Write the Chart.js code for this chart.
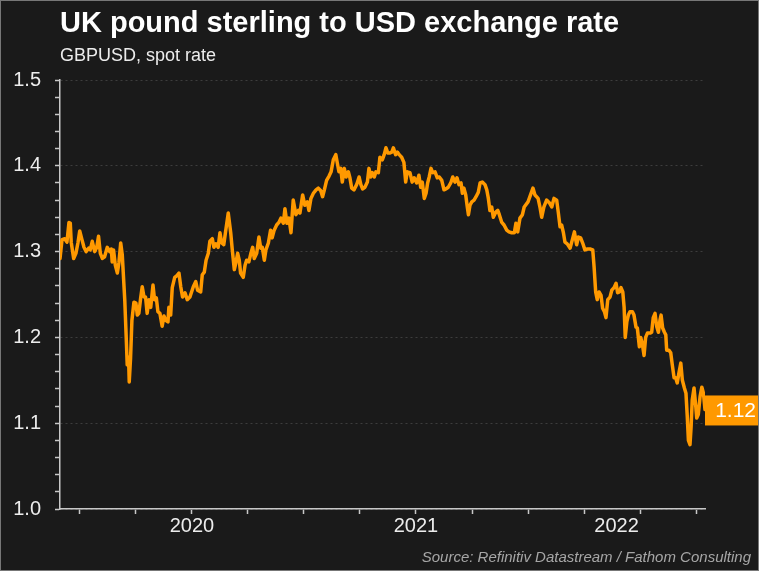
<!DOCTYPE html>
<html>
<head>
<meta charset="utf-8">
<script src="https://cdn.jsdelivr.net/npm/chart.js@4.4.0/dist/chart.umd.min.js"></script>
<style>
  html, body { margin: 0; padding: 0; background: #1a1a1a; }
  canvas { display: block; }
</style>
</head>
<body>
<canvas id="fx" width="759" height="571"></canvas>
<script>
// GBPUSD spot (x = decimal year)
const dates = [
  2019.911, 2019.920, 2019.932, 2019.942, 2019.951, 2019.957, 2019.961, 2019.972, 2019.982, 2019.991,
  2019.999, 2020.009, 2020.018, 2020.028, 2020.039, 2020.046, 2020.055, 2020.066, 2020.075, 2020.083,
  2020.091, 2020.100, 2020.110, 2020.122, 2020.133, 2020.140, 2020.144, 2020.150, 2020.158, 2020.167,
  2020.174, 2020.182, 2020.189, 2020.200, 2020.207, 2020.211, 2020.217, 2020.220, 2020.226, 2020.232,
  2020.241, 2020.250, 2020.256, 2020.263, 2020.271, 2020.278, 2020.286, 2020.293, 2020.300, 2020.308,
  2020.316, 2020.326, 2020.333, 2020.341, 2020.348, 2020.357, 2020.367, 2020.375, 2020.383, 2020.393,
  2020.397, 2020.405, 2020.412, 2020.423, 2020.433, 2020.442, 2020.450, 2020.458, 2020.469, 2020.479,
  2020.491, 2020.506, 2020.517, 2020.525, 2020.539, 2020.546, 2020.555, 2020.563, 2020.573, 2020.580,
  2020.591, 2020.598, 2020.607, 2020.617, 2020.625, 2020.633, 2020.642, 2020.650, 2020.662, 2020.673,
  2020.680, 2020.689, 2020.696, 2020.704, 2020.711, 2020.717, 2020.729, 2020.737, 2020.744, 2020.754,
  2020.763, 2020.771, 2020.778, 2020.789, 2020.799, 2020.807, 2020.814, 2020.823, 2020.830, 2020.841,
  2020.851, 2020.858, 2020.867, 2020.878, 2020.888, 2020.897, 2020.908, 2020.915, 2020.924, 2020.933,
  2020.942, 2020.952, 2020.964, 2020.975, 2020.982, 2020.994, 2021.004, 2021.015, 2021.022, 2021.031,
  2021.042, 2021.054, 2021.064, 2021.075, 2021.083, 2021.091, 2021.101, 2021.112, 2021.121, 2021.131,
  2021.142, 2021.149, 2021.156, 2021.164, 2021.171, 2021.180, 2021.188, 2021.198, 2021.205, 2021.213,
  2021.223, 2021.235, 2021.246, 2021.254, 2021.262, 2021.272, 2021.283, 2021.290, 2021.298, 2021.305,
  2021.314, 2021.321, 2021.332, 2021.339, 2021.350, 2021.358, 2021.366, 2021.374, 2021.384, 2021.392,
  2021.399, 2021.409, 2021.417, 2021.425, 2021.436, 2021.446, 2021.454, 2021.461, 2021.473, 2021.483,
  2021.492, 2021.503, 2021.513, 2021.521, 2021.528, 2021.537, 2021.545, 2021.552, 2021.559, 2021.567,
  2021.575, 2021.585, 2021.595, 2021.604, 2021.615, 2021.625, 2021.634, 2021.644, 2021.655, 2021.664,
  2021.674, 2021.683, 2021.692, 2021.701, 2021.707, 2021.714, 2021.722, 2021.729, 2021.734, 2021.741,
  2021.749, 2021.759, 2021.768, 2021.778, 2021.786, 2021.796, 2021.808, 2021.816, 2021.823, 2021.830,
  2021.838, 2021.845, 2021.856, 2021.865, 2021.872, 2021.883, 2021.893, 2021.905, 2021.915, 2021.927,
  2021.939, 2021.946, 2021.954, 2021.964, 2021.975, 2021.983, 2022.000, 2022.022, 2022.031, 2022.045,
  2022.054, 2022.061, 2022.071, 2022.083, 2022.095, 2022.106, 2022.116, 2022.128, 2022.135, 2022.143,
  2022.150, 2022.158, 2022.165, 2022.175, 2022.188, 2022.198, 2022.207, 2022.217, 2022.225, 2022.235,
  2022.244, 2022.254, 2022.265, 2022.277, 2022.289, 2022.295, 2022.302, 2022.309, 2022.317, 2022.326,
  2022.333, 2022.341, 2022.348, 2022.356, 2022.366, 2022.374, 2022.384, 2022.393, 2022.400, 2022.408,
  2022.415, 2022.423, 2022.429, 2022.434, 2022.441, 2022.448, 2022.455, 2022.466, 2022.473, 2022.482,
  2022.488, 2022.497, 2022.503, 2022.510, 2022.518, 2022.525, 2022.533, 2022.545, 2022.552, 2022.559,
  2022.567, 2022.575, 2022.582, 2022.589, 2022.594, 2022.601, 2022.609, 2022.615, 2022.619, 2022.629,
  2022.637, 2022.644, 2022.652, 2022.659, 2022.666, 2022.674, 2022.682, 2022.689, 2022.698, 2022.705,
  2022.711, 2022.716, 2022.723, 2022.728, 2022.733, 2022.741, 2022.749, 2022.753, 2022.760, 2022.768,
  2022.776, 2022.783, 2022.790
];

const rates = [
  1.292, 1.314, 1.315, 1.311, 1.334, 1.333, 1.311, 1.292, 1.298, 1.310,
  1.324, 1.314, 1.305, 1.300, 1.304, 1.302, 1.312, 1.300, 1.305, 1.318,
  1.298, 1.292, 1.294, 1.305, 1.300, 1.303, 1.288, 1.302, 1.284, 1.275,
  1.287, 1.310, 1.296, 1.244, 1.197, 1.168, 1.177, 1.148, 1.176, 1.220,
  1.241, 1.240, 1.226, 1.228, 1.246, 1.259, 1.247, 1.247, 1.228, 1.244,
  1.235, 1.261, 1.244, 1.246, 1.230, 1.228, 1.213, 1.225, 1.220, 1.218,
  1.235, 1.226, 1.258, 1.270, 1.272, 1.275, 1.259, 1.247, 1.252, 1.244,
  1.247, 1.259, 1.265, 1.255, 1.253, 1.273, 1.276, 1.290, 1.298, 1.312,
  1.315, 1.305, 1.309, 1.305, 1.322, 1.310, 1.308, 1.323, 1.345, 1.322,
  1.302, 1.279, 1.287, 1.298, 1.290, 1.275, 1.270, 1.284, 1.290, 1.288,
  1.298, 1.305, 1.292, 1.298, 1.317, 1.304, 1.305, 1.290, 1.302, 1.310,
  1.325, 1.316, 1.325, 1.331, 1.334, 1.339, 1.333, 1.350, 1.333, 1.339,
  1.322, 1.360, 1.343, 1.348, 1.345, 1.366, 1.354, 1.358, 1.348, 1.362,
  1.368, 1.372, 1.374, 1.371, 1.364, 1.372, 1.383, 1.388, 1.393, 1.407,
  1.413, 1.403, 1.393, 1.397, 1.381, 1.397, 1.387, 1.393, 1.386, 1.374,
  1.372, 1.378, 1.387, 1.378, 1.373, 1.375, 1.381, 1.397, 1.387, 1.392,
  1.387, 1.393, 1.392, 1.410, 1.407, 1.413, 1.421, 1.415, 1.415, 1.416,
  1.421, 1.413, 1.416, 1.413, 1.410, 1.404, 1.381, 1.393, 1.392, 1.381,
  1.386, 1.380, 1.389, 1.375, 1.381, 1.362, 1.368, 1.380, 1.387, 1.397,
  1.392, 1.393, 1.386, 1.387, 1.383, 1.372, 1.373, 1.375, 1.380, 1.387,
  1.381, 1.386, 1.378, 1.380, 1.368, 1.374, 1.366, 1.352, 1.343, 1.354,
  1.358, 1.360, 1.364, 1.369, 1.380, 1.381, 1.378, 1.372, 1.362, 1.348,
  1.352, 1.340, 1.346, 1.348, 1.343, 1.334, 1.331, 1.325, 1.323, 1.322,
  1.322, 1.333, 1.323, 1.339, 1.343, 1.352, 1.358, 1.374, 1.366, 1.362,
  1.351, 1.340, 1.352, 1.360, 1.357, 1.352, 1.362, 1.360, 1.346, 1.329,
  1.331, 1.322, 1.311, 1.309, 1.304, 1.314, 1.323, 1.308, 1.317, 1.316,
  1.310, 1.302, 1.303, 1.303, 1.302, 1.282, 1.253, 1.244, 1.253, 1.249,
  1.234, 1.230, 1.223, 1.244, 1.247, 1.255, 1.258, 1.263, 1.252, 1.253,
  1.258, 1.253, 1.235, 1.200, 1.218, 1.226, 1.230, 1.230, 1.226, 1.212,
  1.211, 1.189, 1.200, 1.193, 1.179, 1.200, 1.205, 1.205, 1.206, 1.223,
  1.228, 1.212, 1.206, 1.220, 1.226, 1.211, 1.206, 1.203, 1.185, 1.185,
  1.182, 1.168, 1.153, 1.153, 1.147, 1.159, 1.170, 1.150, 1.141, 1.135,
  1.107, 1.080, 1.075, 1.096, 1.127, 1.141, 1.119, 1.106, 1.110, 1.131,
  1.142, 1.135, 1.116
];

const years = [2020, 2021, 2022];
const yMin = 1.0;
const yMax = 1.5;
const yStep = 0.02;

const FONT = "'Liberation Sans', Arial, Helvetica, sans-serif";
const ORANGE = "#ff9900";
const AXIS = "#c8c8c8";
const TEXT = "#ececec";

function isMajor(v) {
  return Math.abs(v * 10 - Math.round(v * 10)) < 1e-6;
}

const background = {
  id: "background",
  beforeDraw(chart) {
    const c = chart.ctx;
    c.save();
    c.fillStyle = "#1a1a1a";
    c.fillRect(0, 0, chart.width, chart.height);
    c.restore();
  }
};

// orange box with the latest value, right of the plot
const lastValue = {
  id: "lastValue",
  afterDatasetsDraw(chart) {
    const c = chart.ctx;
    const last = rates[rates.length - 1];
    const y = chart.scales.y.getPixelForValue(last);
    const x = chart.chartArea.right;
    c.save();
    c.fillStyle = ORANGE;
    c.fillRect(x, y - 14, chart.width - x, 30);
    c.fillStyle = "#ffffff";
    c.font = "21px " + FONT;
    c.textAlign = "right";
    c.textBaseline = "middle";
    c.fillText(last.toFixed(2), chart.width - 3, y + 1.5);
    c.restore();
  }
};

const source = {
  id: "source",
  afterDraw(chart) {
    const c = chart.ctx;
    c.save();
    c.font = "italic 15px " + FONT;
    c.fillStyle = "#a6a6a6";
    c.textAlign = "right";
    c.textBaseline = "alphabetic";
    c.fillText("Source: Refinitiv Datastream / Fathom Consulting", chart.width - 8, chart.height - 9);
    c.strokeStyle = "#777777";
    c.lineWidth = 1;
    c.strokeRect(0.5, 0.5, chart.width - 1, chart.height - 1);
    c.restore();
  }
};

new Chart(document.getElementById("fx"), {
  type: "line",
  data: {
    datasets: [{
      label: "GBPUSD",
      data: dates.map((d, i) => ({ x: d, y: rates[i] })),
      borderColor: ORANGE,
      borderWidth: 3.5,
      pointRadius: 0,
      tension: 0,
      borderJoinStyle: "round",
      borderCapStyle: "round"
    }]
  },
  options: {
    responsive: false,
    animation: false,
    layout: { padding: { top: 0, right: 54, bottom: 0, left: 0 } },
    plugins: {
      legend: { display: false },
      tooltip: { enabled: false },
      title: {
        display: true,
        text: "UK pound sterling to USD exchange rate",
        align: "start",
        fullSize: false,
        color: "#ffffff",
        font: { family: FONT, size: 29, weight: "bold" },
        padding: { top: 7, bottom: 0 }
      },
      subtitle: {
        display: true,
        text: "GBPUSD, spot rate",
        align: "start",
        fullSize: false,
        color: TEXT,
        font: { family: FONT, size: 18 },
        padding: { top: 3.5, bottom: 13.1 }
      }
    },
    scales: {
      x: {
        type: "linear",
        min: dates[0],
        max: dates[dates.length - 1],
        afterFit(s) { s.height = 62; },
        afterBuildTicks(s) {
          const lo = dates[0], hi = dates[dates.length - 1];
          const t = [];
          for (let q = Math.ceil(lo * 4); q <= Math.floor(hi * 4); q++) t.push({ value: q / 4 });
          years.forEach(yr => {
            if (yr >= lo && yr < hi) t.push({ value: (yr + Math.min(yr + 1, hi)) / 2, lab: String(yr) });
          });
          t.sort((a, b) => a.value - b.value);
          s.ticks = t;
        },
        grid: {
          drawOnChartArea: false,
          tickLength: 5,
          tickWidth: 1.5,
          tickColor: ctx => (ctx.tick && ctx.tick.lab) ? "rgba(0,0,0,0)" : AXIS
        },
        border: { color: AXIS, width: 1.5 },
        ticks: {
          autoSkip: false,
          maxRotation: 0,
          padding: 0,
          color: TEXT,
          font: { family: FONT, size: 20 },
          callback: (v, i, t) => t[i].lab || ""
        }
      },
      y: {
        min: yMin,
        max: yMax,
        afterFit(s) { s.width = 60; },
        afterBuildTicks(s) {
          const t = [];
          for (let v = yMin; v <= yMax + 1e-9; v += yStep) t.push({ value: Math.round(v * 100) / 100 });
          s.ticks = t;
        },
        grid: {
          color: ctx => (ctx.tick && isMajor(ctx.tick.value)) ? "#3d3d3d" : "rgba(0,0,0,0)",
          lineWidth: 1,
          tickLength: 5,
          tickWidth: 1.5,
          tickColor: AXIS
        },
        border: { color: AXIS, width: 1.5, dash: [2, 3] },
        ticks: {
          autoSkip: false,
          padding: 14,
          color: TEXT,
          font: { family: FONT, size: 20 },
          callback: v => isMajor(v) ? v.toFixed(1) : ""
        }
      }
    }
  },
  plugins: [background, lastValue, source]
});
</script>
</body>
</html>
